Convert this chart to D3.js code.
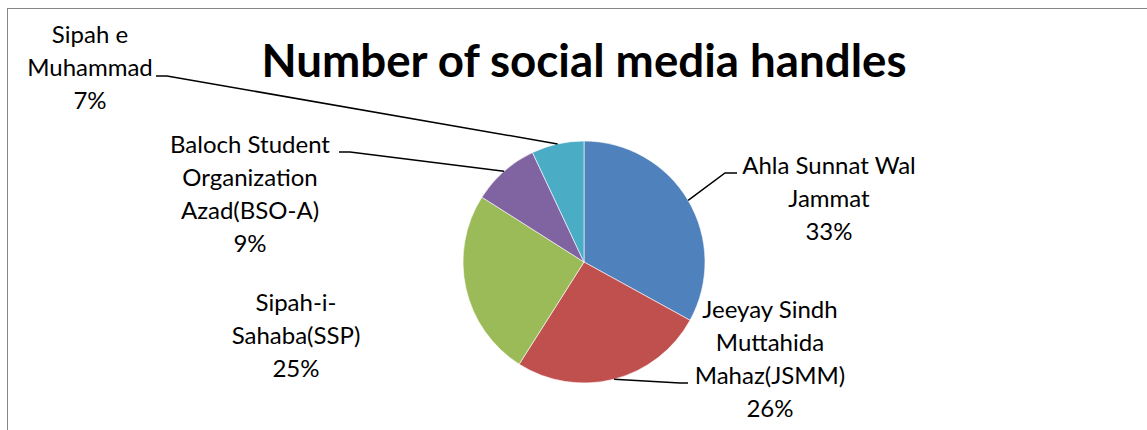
<!DOCTYPE html>
<html>
<head>
<meta charset="utf-8">
<script src="https://cdn.jsdelivr.net/npm/d3@7"></script>
<style>
  body { margin: 0; background: #fff; }
  svg { display: block; font-family: Lato, "Open Sans", sans-serif; }
  .lbl { font-size: 24px; fill: #000; }
  .title { font-size: 45.7px; font-weight: bold; }
</style>
</head>
<body>
<svg id="chart" width="1147" height="430"></svg>
<script>
const categories = [
  'Ahla Sunnat Wal Jammat',
  'Jeeyay Sindh Muttahida Mahaz(JSMM)',
  'Sipah-i-Sahaba(SSP)',
  'Baloch Student Organization Azad(BSO-A)',
  'Sipah e Muhammad'
];
const labelLines = [
  ['Ahla Sunnat Wal', 'Jammat'],
  ['Jeeyay Sindh', 'Muttahida', 'Mahaz(JSMM)'],
  ['Sipah-i-', 'Sahaba(SSP)'],
  ['Baloch Student', 'Organization', 'Azad(BSO-A)'],
  ['Sipah e', 'Muhammad']
];
const values = [33, 26, 25, 9, 7];
const colors = ['#4F81BD', '#C0504D', '#9BBB59', '#8064A2', '#4BACC6'];
const title = 'Number of social media handles';

const svg = d3.select('#chart');
const cx = 584, cy = 262, r = 121;
const lineH = 33;

// chart frame (only top & left visible)
svg.append('rect')
  .attr('x', 7.5).attr('y', 8.5)
  .attr('width', 1200).attr('height', 500)
  .attr('fill', 'none').attr('stroke', '#868686').attr('stroke-width', 1);

svg.append('text')
  .attr('class', 'title')
  .attr('x', cx).attr('y', 77)
  .attr('text-anchor', 'middle')
  .text(title);

const pie = d3.pie().sort(null).value(d => d);
const arcs = pie(values);
const arc = d3.arc().innerRadius(0).outerRadius(r);

const g = svg.append('g').attr('transform', `translate(${cx},${cy})`);
g.selectAll('path')
  .data(arcs)
  .join('path')
  .attr('d', arc)
  .attr('fill', (d, i) => colors[i])
  .attr('stroke', '#fff')
  .attr('stroke-width', 0.6);

// label placement (centre x, first line centre y, leader elbow)
const labelPos = [
  { x: 829, y: 166, elbow: [[725, 173], [737, 173]] },
  { x: 770, y: 310, elbow: [[680, 383], [688, 383]] },
  { x: 296, y: 303, elbow: null },
  { x: 250, y: 145, elbow: [[350, 152], [339, 152]] },
  { x: 90, y: 35, elbow: [[167, 76], [156, 76]] }
];

const edge = d => {
  const a = (d.startAngle + d.endAngle) / 2;
  return [cx + r * Math.sin(a), cy - r * Math.cos(a)];
};

const line = d3.line();
arcs.forEach((d, i) => {
  const p = labelPos[i];
  if (p.elbow) {
    svg.append('path')
      .attr('d', line([edge(d)].concat(p.elbow)))
      .attr('fill', 'none')
      .attr('stroke', '#000')
      .attr('stroke-width', 1.5);
  }
  const lines = labelLines[i].concat([values[i] + '%']);
  const t = svg.append('text')
    .attr('class', 'lbl')
    .attr('text-anchor', 'middle');
  lines.forEach((s, j) => {
    t.append('tspan')
      .attr('x', p.x)
      .attr('y', p.y + j * lineH)
      .attr('dy', '0.35em')
      .text(s);
  });
});
</script>
</body>
</html>
